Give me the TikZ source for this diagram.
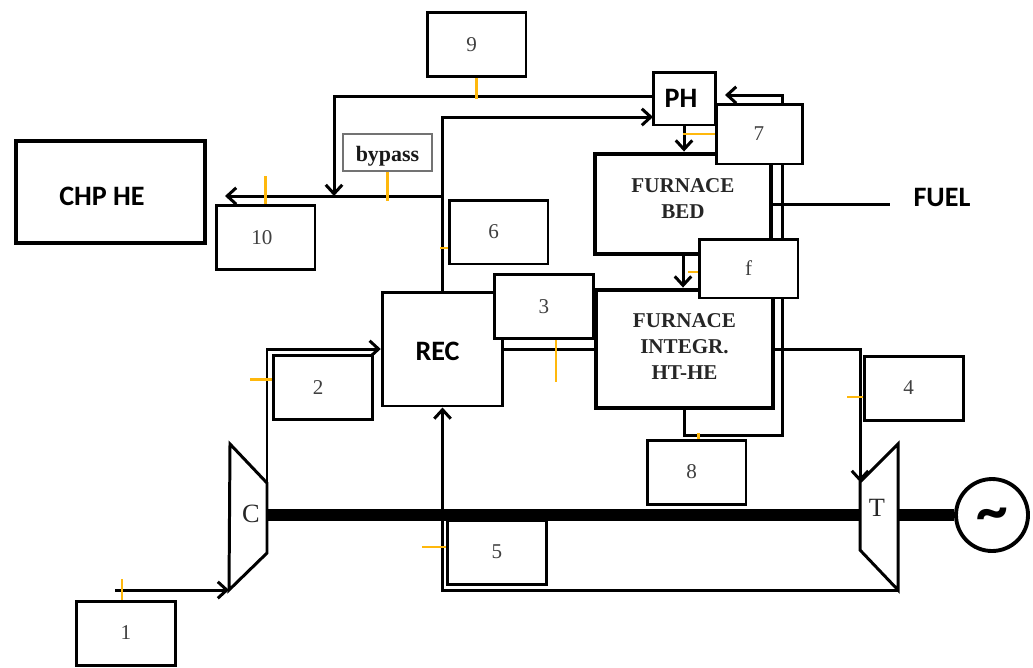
\documentclass[tikz,border=0pt]{standalone}
\usepackage{fontspec}
\setmainfont{Liberation Serif}
\newfontfamily\lblfont{Carlito}
\usetikzlibrary{positioning,arrows.meta}
\definecolor{tickorange}{HTML}{FFB80C}

\begin{document}
\begin{tikzpicture}[
  x=0.02cm,y=-0.02cm,
  >={Straight Barb[length=1.8mm,width=3.3mm]},
  line join=miter,
  numbox/.style={draw,line width=1.7pt,fill=white,minimum width=1.98cm,minimum height=1.28cm,inner sep=0pt,text=black!75,font=\fontsize{12}{14}\selectfont},
  lft/.style={execute at begin node={\kern-5.6pt}},
  furnace/.style={draw,line width=2.8pt,fill=white,inner sep=0pt,align=center,font=\fontsize{12}{14.7}\selectfont\bfseries,text=black!85},
  sanslbl/.style={font=\fontsize{16}{18}\selectfont\lblfont\bfseries,inner sep=0pt},
  flow/.style={draw,line width=1.7pt},
  shaft/.style={draw,line width=6.8pt},
  tick/.style={draw=tickorange,line width=1.6pt},
  mach/.style={draw,line width=1.7pt,fill=white}
]
\useasboundingbox (0,0) rectangle (1033,667);

% Main components
\node[draw,line width=2.6pt,minimum width=3.78cm,minimum height=2.04cm,sanslbl,text height=15.8pt,text depth=0pt] (chp) at (110.5,192) {\kern-0.34cm CHP HE};
\node[draw,line width=1.7pt,minimum width=2.41cm,minimum height=2.28cm,sanslbl,fill=white,text height=13.6pt,text depth=0pt] (rec) at (442.5,349) {\kern-0.2cm REC};
\node[furnace,minimum width=3.52cm,minimum height=2cm] (bed) at (683,204) {FURNACE\\BED\\[-8.7pt]};
\node[furnace,minimum width=3.54cm,minimum height=2.36cm] (fi) at (684.5,349) {FURNACE\\INTEGR.\\HT-HE\\[-12pt]};
\node[draw,line width=1.7pt,minimum width=1.24cm,minimum height=1.06cm,sanslbl,fill=white] (ph) at (684,98.5) {\kern-0.12cm PH};
\node[sanslbl] (fuel) at (942,197) {FUEL};
\node[draw=black!55,line width=0.6pt,minimum width=1.78cm,minimum height=0.74cm,inner sep=0pt,fill=white,font=\fontsize{12.5}{14}\selectfont\bfseries,text=black!90,text height=10.2pt,text depth=0pt] (bypass) at (387.5,152.5) {bypass};

% Free ends of the lines
\coordinate (cin) at (115,590);
\coordinate (ctop) at (267,483);
\coordinate (cbot) at (267,553);
\coordinate (ctip) at (229,590);
\coordinate (cback) at (230,444);
\coordinate (ttop) at (860,482);
\coordinate (tbot) at (860,550);
\coordinate (ttip) at (898,590);
\coordinate (tback) at (898,444);
\coordinate (phin) at (653,117);
\coordinate (phout) at (653,96);
\coordinate (phback) at (725,95);
\coordinate (tee) at (443,196);
\coordinate (chpin) at (225,196);
\coordinate (hotin) at (334,196);
\coordinate (loop) at (782,435);
\coordinate (fuelend) at (890,204);
\coordinate (sh1) at (267,515);
\coordinate (sh2) at (860,515);
\coordinate (sh3) at (898,515);

% Flow lines
\draw[flow,->] (ctop) |- (rec.west);
\draw[flow] (rec.east) -- (fi.west);
\draw[flow,->] (fi.east) -| (ttop);
\draw[flow,->] (ttip) -| (rec.south);
\draw[flow,->] (rec.north) |- (phin);
\draw[flow,->] (tee) -- (chpin);
\draw[flow,->] (phout) -| (hotin);
\draw[flow,->] (ph.south) -- (ph.south |- bed.north);
\draw[flow,->] (bed.south) -- (bed.south |- fi.north);
\draw[flow,->] (fi.south) |- (loop) |- (phback);
\draw[flow] (bed.east) -- (fuelend);

% Numbered boxes
\node[numbox] (b1) at (126,633) {1};
\node[numbox,lft] (b2) at (323,387.5) {2};
\node[numbox] (b3) at (544,306.5) {3};
\node[numbox,lft] (b4) at (913.5,388) {4};
\node[numbox] (b5) at (497,552) {5};
\node[numbox,lft] (b6) at (498.5,232) {6};
\node[numbox,minimum width=1.72cm,minimum height=1.2cm] (b7) at (759,134) {7};
\node[numbox,lft] (b8) at (696.5,472) {8};
\node[numbox,lft] (b9) at (476.5,44.5) {9};
\node[numbox] (b10) at (265.5,237.5) {\kern-4pt 10};
\node[numbox,minimum height=1.18cm] (bf) at (748.5,268.5) {f};

% Compressor, turbine, shaft
\draw[mach] (cback) -- (ctop) -- (cbot) -- (ctip) -- cycle;
\draw[mach] (tback) -- (ttop) -- (tbot) -- (ttip) -- cycle;
\node[inner sep=0pt,font=\fontsize{15}{15}\selectfont,text=black!85] (clbl) at (251,514) {C};
\node[inner sep=0pt,font=\fontsize{15}{15}\selectfont,text=black!85] (tlbl) at (877,508) {T};
\node[draw,circle,line width=2.2pt,minimum size=1.44cm,inner sep=0pt,fill=white,font=\fontsize{36}{36}\selectfont\lblfont\bfseries] (gen) at (992,515) {\raisebox{-9.5pt}[0pt][0pt]{\symbol{126}}};
\draw[shaft] (sh1) -- (sh2);
\draw[shaft] (sh3) -- (gen.west);
\draw[flow,->] (cin) -- (ctip);

% Measuring points
\draw[tick] ([xshift=-0.08cm]b1.north) -- ++(0,-21);
\draw[tick] ([yshift=0.16cm]b2.west) -- ++(-22,0);
\draw[tick] ([xshift=0.24cm]b3.south) -- ++(0,42);
\draw[tick] ([yshift=-0.18cm]b4.west) -- ++(-16,0);
\draw[tick] ([yshift=0.1cm]b5.west) -- ++(-24,0);
\draw[tick] ([yshift=-0.32cm]b6.west) -- ++(-8,0);
\draw[tick] (b7.west) -- ++(-32,0);
\draw[tick] ([xshift=0.04cm]b8.north) -- ++(0,-6);
\draw[tick] (b9.south) -- ++(0,21);
\draw[tick] (b10.north) -- ++(0,-28);
\draw[tick] (bypass.south) -- ++(0,29);
\draw[tick] ([yshift=-0.07cm]bf.west) -- ++(-10,0);
\end{tikzpicture}
\end{document}
